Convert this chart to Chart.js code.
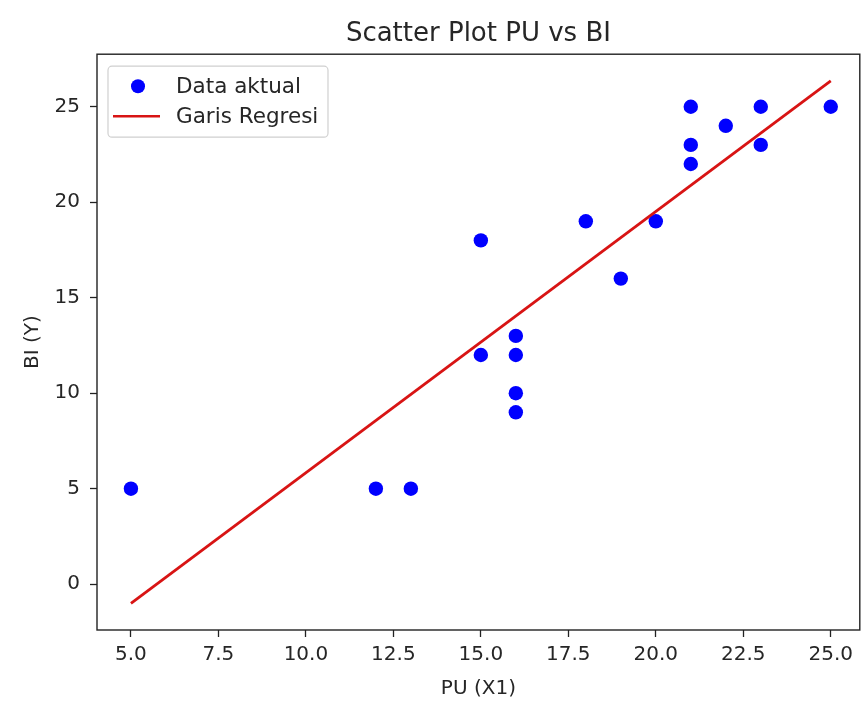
<!DOCTYPE html>
<html>
<head>
<meta charset="utf-8">
<script src="https://cdn.jsdelivr.net/npm/chart.js@4/dist/chart.umd.min.js"></script>
<style>
  html, body { margin: 0; padding: 0; background: #fff; }
  #wrap { width: 867px; height: 707px; }
</style>
</head>
<body>
<div id="wrap"><canvas id="c" width="867" height="707"></canvas></div>
<script>
// ---- data ----
const puValues = [5, 12, 13, 15, 15, 16, 16, 16, 16, 18, 19, 20, 21, 21, 21, 22, 23, 23, 25];
const biValues = [5, 5, 5, 18, 12, 13, 12, 10, 9, 19, 16, 19, 25, 23, 22, 24, 25, 23, 25];
const regX = [5, 25];
const regY = [-1.0, 26.35];
const xTicks = [5.0, 7.5, 10.0, 12.5, 15.0, 17.5, 20.0, 22.5, 25.0];
const yTicks = [0, 5, 10, 15, 20, 25];
const titleText = 'Scatter Plot PU vs BI';
const xLabel = 'PU (X1)';
const yLabel = 'BI (Y)';
const seriesNames = ['Data aktual', 'Garis Regresi'];

const FONT = "'DejaVu Sans', sans-serif";
const BLUE = '#0000ff';
const RED = '#d81414';

const scatterPts = puValues.map((x, i) => ({ x: x, y: biValues[i] }));
const linePts = regX.map((x, i) => ({ x: x, y: regY[i] }));

const framePlugin = {
  id: 'frame',
  afterDatasetsDraw(chart) {
    const { ctx, chartArea: a } = chart;
    ctx.save();
    ctx.strokeStyle = '#222';
    ctx.lineWidth = 1.4;
    ctx.strokeRect(a.left, a.top, a.right - a.left, a.bottom - a.top);
    ctx.restore();
  },
  afterDraw(chart) {
    // legend inside the axes, upper left
    const { ctx, chartArea: a } = chart;
    const ds = chart.data.datasets;
    const x0 = a.left + 11, y0 = a.top + 12, w = 220, h = 71;
    ctx.save();
    ctx.fillStyle = 'rgba(255,255,255,0.85)';
    ctx.strokeStyle = '#d0d0d0';
    ctx.lineWidth = 1.2;
    ctx.beginPath();
    ctx.roundRect(x0, y0, w, h, 4);
    ctx.fill();
    ctx.stroke();
    ctx.font = '21.5px ' + FONT;
    ctx.textBaseline = 'middle';
    const r1 = y0 + 20, r2 = y0 + 50;
    // entry 1: marker
    ctx.beginPath();
    ctx.fillStyle = ds[0].backgroundColor;
    ctx.arc(x0 + 30, r1, 7, 0, Math.PI * 2);
    ctx.fill();
    ctx.fillStyle = '#262626';
    ctx.fillText(ds[0].label, x0 + 68, r1 + 1);
    // entry 2: line
    ctx.strokeStyle = ds[1].borderColor;
    ctx.lineWidth = 2.6;
    ctx.beginPath();
    ctx.moveTo(x0 + 5, r2);
    ctx.lineTo(x0 + 52, r2);
    ctx.stroke();
    ctx.fillText(ds[1].label, x0 + 68, r2 + 1);
    ctx.restore();
  }
};

new Chart(document.getElementById('c'), {
  type: 'scatter',
  data: {
    datasets: [
      {
        label: seriesNames[0],
        data: scatterPts,
        backgroundColor: BLUE,
        borderColor: BLUE,
        pointRadius: 7.2,
        pointHoverRadius: 7.2,
        borderWidth: 0,
        order: 1
      },
      {
        type: 'line',
        label: seriesNames[1],
        data: linePts,
        showLine: true,
        borderColor: RED,
        backgroundColor: RED,
        borderWidth: 2.8,
        pointRadius: 0,
        fill: false,
        order: 0
      }
    ]
  },
  options: {
    responsive: false,
    animation: false,
    devicePixelRatio: 1,
    layout: { padding: { left: 0, right: 5, top: 0, bottom: 0 } },
    plugins: {
      legend: { display: false },
      tooltip: { enabled: false },
      title: {
        display: true,
        text: titleText,
        fullSize: false,
        color: '#262626',
        font: { family: FONT, size: 26, weight: 'normal' },
        padding: { top: 19, bottom: 4 }
      }
    },
    scales: {
      x: {
        type: 'linear',
        min: 4.03,
        max: 25.83,
        afterBuildTicks: s => { s.ticks = xTicks.map(v => ({ value: v })); },
        afterFit: s => { s.height = 77; },
        ticks: {
          color: '#262626',
          font: { family: FONT, size: 20 },
          padding: 6,
          maxRotation: 0,
          autoSkip: false,
          callback: v => Number(v).toFixed(1)
        },
        grid: { display: true, drawOnChartArea: false, drawTicks: true, tickLength: 7, color: '#222', tickWidth: 1.3 },
        border: { display: false },
        title: { display: true, text: xLabel, color: '#262626', font: { family: FONT, size: 20 }, padding: { top: 2, bottom: 6 } }
      },
      y: {
        type: 'linear',
        min: -2.4,
        max: 27.75,
        afterBuildTicks: s => { s.ticks = yTicks.map(v => ({ value: v })); },
        afterFit: s => { s.width = 97; },
        ticks: {
          color: '#262626',
          font: { family: FONT, size: 20 },
          padding: 10,
          autoSkip: false,
          callback: v => String(v)
        },
        grid: { display: true, drawOnChartArea: false, drawTicks: true, tickLength: 7, color: '#222', tickWidth: 1.3 },
        border: { display: false },
        title: { display: true, text: yLabel, color: '#262626', font: { family: FONT, size: 20 }, padding: { top: 21, bottom: 0 } }
      }
    }
  },
  plugins: [framePlugin]
});
</script>
</body>
</html>
